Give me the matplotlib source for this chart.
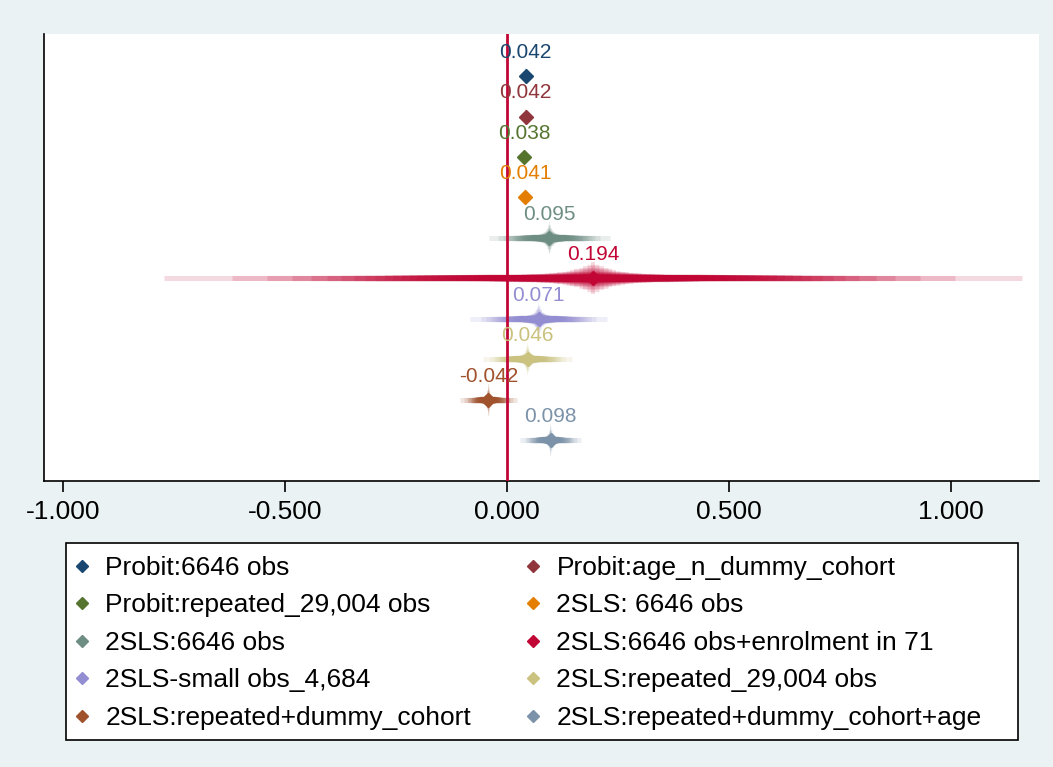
from statistics import NormalDist

import matplotlib
import numpy as np
from matplotlib import pyplot as plt
from matplotlib.lines import Line2D
from matplotlib.patches import Rectangle

matplotlib.use("Agg")

LABELS = [
    "Probit:6646 obs",
    "Probit:age_n_dummy_cohort",
    "Probit:repeated_29,004 obs",
    "2SLS: 6646 obs",
    "2SLS:6646 obs",
    "2SLS:6646 obs+enrolment in 71",
    "2SLS-small obs_4,684",
    "2SLS:repeated_29,004 obs",
    "2SLS:repeated+dummy_cohort",
    "2SLS:repeated+dummy_cohort+age",
]
COEFS = [0.042, 0.042, 0.038, 0.041, 0.095, 0.194, 0.071, 0.046, -0.042, 0.098]
SES = [0.004, 0.004, 0.003, 0.004, 0.053, 0.375, 0.060, 0.039, 0.025, 0.027]
COLORS = [
    "#1A476F", "#90353B", "#55752F", "#E37E00", "#6E8E84",
    "#C10534", "#938DD2", "#CAC27E", "#A0522D", "#7B92A8",
]
XTICKS = [-1.0, -0.5, 0.0, 0.5, 1.0]

BG = "#EAF2F3"
LEVELS = np.arange(1, 100, 2)  # smoothed CI levels, in percent
PX = 0.72  # points per pixel at dpi 100
W, H = 1053, 767


def level_width(lev):
    # line height in px for one CI level: thick near the estimate, thin outside
    return 5 + 2.5 * (1 - lev / 100) + 27 * np.exp(-lev / 10)


def render() -> None:
    plt.rcParams["font.family"] = ["Liberation Sans", "DejaVu Sans"]
    plt.rcParams["axes.unicode_minus"] = False

    fig = plt.figure(figsize=(W / 100, H / 100), dpi=100, facecolor=BG)
    ax = fig.add_axes([44 / W, 1 - 481 / H, (1039 - 44) / W, (481 - 34) / H])
    ax.set_facecolor("white")

    nd = NormalDist()
    ys = np.arange(1, len(COEFS) + 1)
    for y, b, se, col in zip(ys, COEFS, SES, COLORS):
        for lev in LEVELS:
            z = nd.inv_cdf(0.5 + lev / 200)
            ax.plot([b - z * se, b + z * se], [y, y], color=col, alpha=0.15,
                    lw=level_width(lev) * PX, solid_capstyle="butt", zorder=2)
        ax.plot(b, y, marker="D", ms=6.8, color=col, mec=col, ls="none", zorder=5)
        ax.annotate(f"{b:.3f}", (b, y), xytext=(0, 17), textcoords="offset points",
                    ha="center", va="center", color=col, fontsize=15, zorder=6)

    ax.axvline(0, color="#C10534", lw=2.0, zorder=3)
    ax.set_xlim(-1.043, 1.198)
    ax.set_ylim(11.01, -0.04)
    ax.set_xticks(XTICKS, labels=[f"{t:.3f}" for t in XTICKS])
    ax.set_yticks([])
    ax.tick_params(axis="x", direction="out", length=8, width=1.2, pad=6, labelsize=19)
    for side in ("top", "right"):
        ax.spines[side].set_visible(False)
    for side in ("left", "bottom"):
        ax.spines[side].set_linewidth(1.2)
        ax.spines[side].set_color("black")

    # legend box drawn by hand, entries placed row-wise in two columns
    fig.add_artist(Rectangle((66 / W, 1 - 740 / H), (1018 - 66) / W, (740 - 543) / H,
                             transform=fig.transFigure, facecolor="white",
                             edgecolor="black", lw=1.2, zorder=1))
    handles = [Line2D([], [], marker="D", ms=6.3, color=c, ls="none") for c in COLORS]
    order = [0, 2, 4, 6, 8, 1, 3, 5, 7, 9]
    fig.legend([handles[i] for i in order], [LABELS[i] for i in order],
               ncol=2, loc="upper left", bbox_to_anchor=(69 / W, 1 - 556 / H),
               frameon=False, fontsize=19, borderpad=0, borderaxespad=0,
               handlelength=1.0, handletextpad=0.38, columnspacing=1.85,
               labelspacing=0.51)

    fig.savefig("out.png", dpi=100, facecolor=BG)
    plt.close(fig)


if __name__ == "__main__":
    render()
